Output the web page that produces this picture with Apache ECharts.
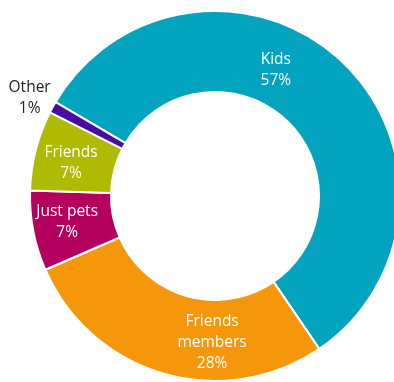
<!DOCTYPE html>
<html>
<head>
<meta charset="utf-8">
<script src="https://cdn.jsdelivr.net/npm/echarts@6/dist/echarts.min.js"></script>
<style>
  html, body { margin: 0; padding: 0; background: #ffffff; }
  #chart { width: 394px; height: 382px; }
</style>
</head>
<body>
<div id="chart"></div>
<script>
// Who people share their home with (share of respondents, %)
const categories = ['Kids', 'Friends\nmembers', 'Just pets', 'Friends', 'Other'];
const shares = [57, 28, 7, 7, 1];
const sliceColors = ['#02a3bf', '#f5960b', '#b3005e', '#afbb02', '#4a0c9f'];

// Label nudges (dx, dy) away from the default inside position
const labelNudge = [[-40, -18], [38, 5], [-3, -2], [-1, 4], [-56, -27]];

const chart = echarts.init(document.getElementById('chart'), null, { renderer: 'canvas' });

chart.setOption({
  animation: false,
  series: [{
    type: 'pie',
    center: [215, 196],
    radius: [104, 185],
    startAngle: 149.5,
    clockwise: true,
    avoidLabelOverlap: false,
    itemStyle: { borderColor: '#ffffff', borderWidth: 2 },
    label: {
      show: true,
      position: 'inside',
      formatter: p => p.name + '\n' + p.value + '%',
      color: '#ffffff',
      fontFamily: 'Open Sans',
      fontSize: 15.5,
      lineHeight: 21
    },
    labelLine: { show: false },
    labelLayout: p => {
      const n = labelNudge[p.dataIndex];
      return { dx: n[0], dy: n[1] };
    },
    data: categories.map((c, i) => ({
      name: c,
      value: shares[i],
      itemStyle: { color: sliceColors[i] },
      label: i === categories.length - 1 ? { color: '#222222' } : undefined
    }))
  }]
});
</script>
</body>
</html>
